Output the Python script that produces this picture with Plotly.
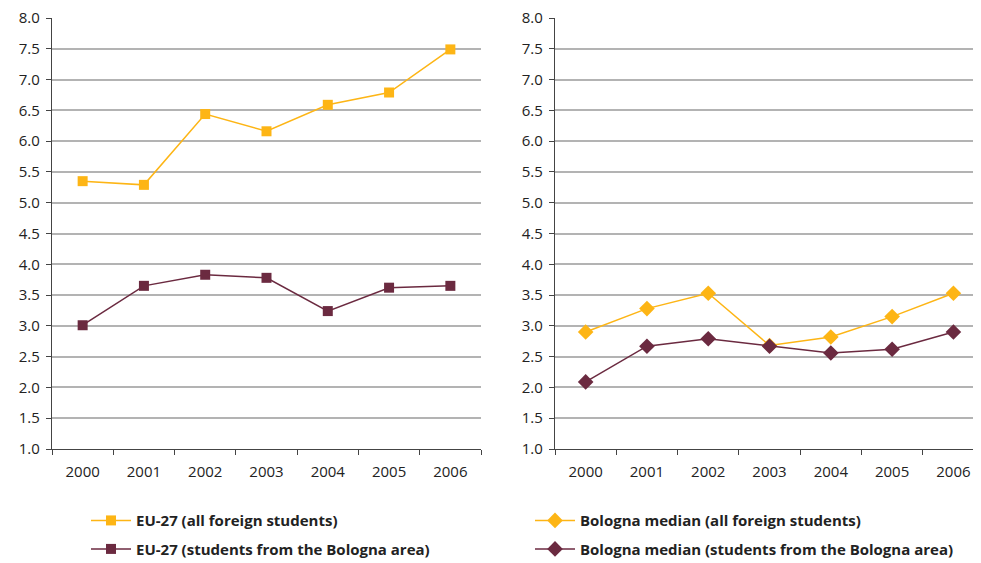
import plotly.graph_objects as go

years = ["2000", "2001", "2002", "2003", "2004", "2005", "2006"]
eu_all = [5.35, 5.29, 6.44, 6.16, 6.59, 6.79, 7.49]
eu_bologna = [3.01, 3.65, 3.83, 3.78, 3.24, 3.62, 3.65]
med_all = [2.90, 3.28, 3.53, 2.68, 2.82, 3.15, 3.53]
med_bologna = [2.09, 2.67, 2.79, 2.67, 2.56, 2.62, 2.90]

YELLOW = "#FDB515"
PURPLE = "#6B2A40"
FONT = "Open Sans"

fig = go.Figure()
fig.add_trace(go.Scatter(x=years, y=eu_all, mode="lines+markers", name="EU-27 (all foreign students)",
                         line=dict(color=YELLOW, width=1.5), marker=dict(symbol="square", size=10, color=YELLOW),
                         xaxis="x", yaxis="y", legend="legend", legendgroup="a"))
fig.add_trace(go.Scatter(x=years, y=eu_bologna, mode="lines+markers", name="EU-27 (students from the Bologna area)",
                         line=dict(color=PURPLE, width=1.5), marker=dict(symbol="square", size=10, color=PURPLE),
                         xaxis="x", yaxis="y", legend="legend", legendgroup="b"))
fig.add_trace(go.Scatter(x=years, y=med_all, mode="lines+markers", name="Bologna median (all foreign students)",
                         line=dict(color=YELLOW, width=1.5), marker=dict(symbol="diamond", size=12, color=YELLOW),
                         xaxis="x2", yaxis="y2", legend="legend2", legendgroup="c"))
fig.add_trace(go.Scatter(x=years, y=med_bologna, mode="lines+markers", name="Bologna median (students from the Bologna area)",
                         line=dict(color=PURPLE, width=1.5), marker=dict(symbol="diamond", size=12, color=PURPLE),
                         xaxis="x2", yaxis="y2", legend="legend2", legendgroup="d"))

xcommon = dict(type="category", tickson="boundaries", ticks="outside", ticklen=5, tickcolor="#444",
               showline=True, linecolor="#444", linewidth=1.2, showgrid=False, ticklabelstandoff=9,
               automargin=False, tickfont=dict(family=FONT, size=15, color="#222"), fixedrange=True)
ycommon = dict(range=[1, 8], dtick=0.5, tick0=1, tickformat=".1f", ticks="outside", ticklen=5, tickcolor="#444",
               showline=True, linecolor="#444", linewidth=1.2, showgrid=True, gridcolor="#B3B3B3", gridwidth=1.5,
               zeroline=False, ticklabelstandoff=3, ticklabeloverflow="allow", automargin=False,
               tickfont=dict(family=FONT, size=15, color="#222"))

# page body has an 8px margin, so figure coordinates are offset by 8px
W, H = 973, 555
fig.update_layout(
    width=W, height=H,
    margin=dict(l=0, r=0, t=10, b=114, autoexpand=False),
    plot_bgcolor="white", paper_bgcolor="white",
    xaxis=dict(domain=[44 / W, 473 / W], anchor="y", range=[-0.5, 6.5], **xcommon),
    yaxis=dict(anchor="x", **ycommon),
    xaxis2=dict(domain=[547 / W, 1.0], anchor="y2", range=[-0.5, 6.45], **xcommon),
    yaxis2=dict(anchor="x2", **ycommon),
    legend=dict(x=78 / W, xanchor="left", y=-0.128, yanchor="top", traceorder="grouped", tracegroupgap=6,
                font=dict(family=FONT, size=15, color="#222", weight="bold"), bgcolor="rgba(0,0,0,0)", itemwidth=40),
    legend2=dict(x=522 / W, xanchor="left", y=-0.128, yanchor="top", traceorder="grouped", tracegroupgap=6,
                 font=dict(family=FONT, size=15, color="#222", weight="bold"), bgcolor="rgba(0,0,0,0)", itemwidth=40),
)

fig.write_html("out.html")
